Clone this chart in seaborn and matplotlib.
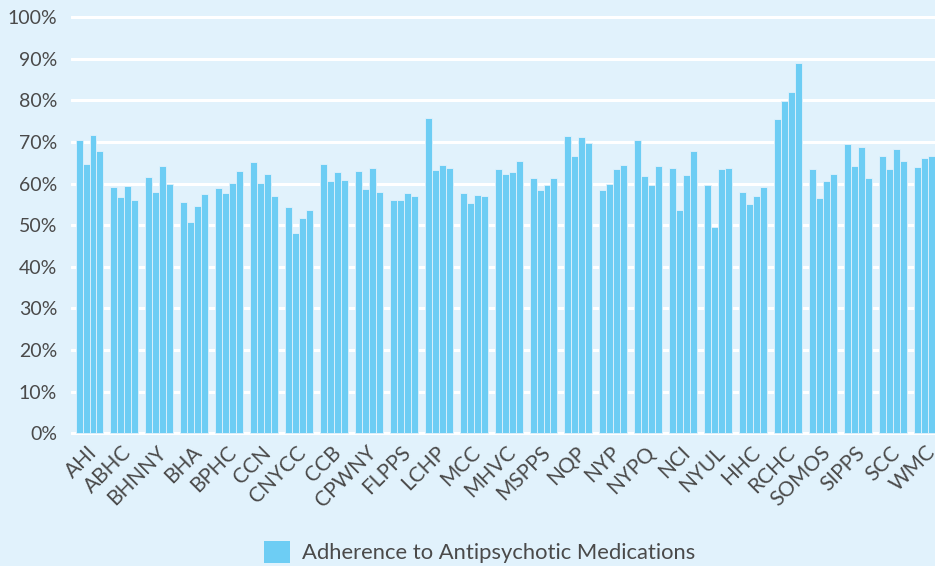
import pandas as pd
import seaborn as sns
import matplotlib.pyplot as plt
import matplotlib.transforms as mtransforms
import numpy as np
from matplotlib.patches import Patch
from matplotlib.ticker import FuncFormatter

# PPS names on the x axis
groups = ['AHI', 'ABHC', 'BHNNY', 'BHA', 'BPHC', 'CCN', 'CNYCC', 'CCB', 'CPWNY', 'FLPPS',
          'LCHP', 'MCC', 'MHVC', 'MSPPS', 'NQP', 'NYP', 'NYPQ', 'NCI', 'NYUL', 'HHC',
          'RCHC', 'SOMOS', 'SIPPS', 'SCC', 'WMC']

# four measurement periods per PPS (% adherence)
period_1 = [70.4, 59.1, 61.5, 55.5, 58.9, 65.1, 54.3, 64.6, 63.0, 56.0,
            75.7, 57.7, 63.4, 61.3, 71.4, 58.4, 70.4, 63.7, 59.6, 57.9,
            75.4, 63.4, 69.4, 66.6, 63.9]
period_2 = [64.6, 56.7, 57.9, 50.7, 57.7, 60.1, 48.1, 60.6, 58.6, 56.0,
            63.2, 55.3, 62.2, 58.4, 66.6, 59.8, 61.8, 53.6, 49.5, 55.0,
            79.8, 56.5, 64.2, 63.4, 66.1]
period_3 = [71.6, 59.4, 64.2, 54.6, 60.1, 62.2, 51.7, 62.7, 63.7, 57.7,
            64.4, 57.2, 62.7, 59.6, 71.1, 63.4, 59.6, 62.0, 63.4, 57.0,
            81.9, 60.6, 68.7, 68.2, 66.6]
# last WMC bar falls outside the cropped picture
period_4 = [67.8, 56.0, 59.8, 57.4, 63.0, 57.0, 53.6, 60.8, 57.9, 57.0,
            63.7, 57.0, 65.4, 61.3, 69.7, 64.4, 64.2, 67.8, 63.7, 59.1,
            88.9, 62.2, 61.3, 65.4, np.nan]

legend_label = 'Adherence to Antipsychotic Medications'

bg = '#e1f2fc'
bar_color = '#6dcdf4'
text_color = '#4a4a4a'

df = pd.DataFrame({'group': groups, 'P1': period_1, 'P2': period_2,
                   'P3': period_3, 'P4': period_4})
df = df.melt(id_vars='group', var_name='period', value_name='value')

sns.set_style('white')
plt.rcParams['font.family'] = ['Lato', 'DejaVu Sans']

fig = plt.figure(figsize=(9.35, 5.66), dpi=100)
fig.patch.set_facecolor(bg)
ax = fig.add_axes([71 / 935, 0.2307, 864 / 935, 0.743])
ax.set_facecolor(bg)

sns.barplot(data=df, x='group', y='value', hue='period',
            palette=[bar_color] * 4, saturation=1, width=0.8,
            edgecolor=bg, linewidth=0.6,
            legend=False, ax=ax, zorder=3)

ax.set_ylim(-0.5, 100.5)
ax.set_xlim(-0.53, 24.21)
ax.set_yticks(range(0, 101, 10))
ax.yaxis.set_major_formatter(FuncFormatter(lambda v, p: f'{int(v)}%'))
ax.grid(axis='y', color='white', linewidth=2.2, zorder=0)
ax.set_axisbelow(True)
for s in ax.spines.values():
    s.set_visible(False)
ax.set_xlabel('')
ax.set_ylabel('')
ax.tick_params(axis='y', length=0, pad=10, labelsize=14, labelcolor=text_color)
ax.tick_params(axis='x', length=0, pad=5, labelsize=15, labelcolor=text_color)
# nudge the rotated labels a touch left so WMC stays inside
shift = mtransforms.ScaledTranslation(-3 / 100, 0, fig.dpi_scale_trans)
for lbl in ax.get_xticklabels():
    lbl.set_rotation(45)
    lbl.set_ha('right')
    lbl.set_rotation_mode('anchor')
    lbl.set_transform(lbl.get_transform() + shift)

handle = Patch(facecolor=bar_color, edgecolor='none')
leg = fig.legend(handles=[handle], labels=[legend_label], loc='lower center',
                 bbox_to_anchor=(0.513, -0.03), frameon=False, fontsize=15.8,
                 handlelength=1.2, handleheight=1.2, handletextpad=0.55)
for t in leg.get_texts():
    t.set_color(text_color)

fig.savefig('out.png', dpi=100, facecolor=bg)
